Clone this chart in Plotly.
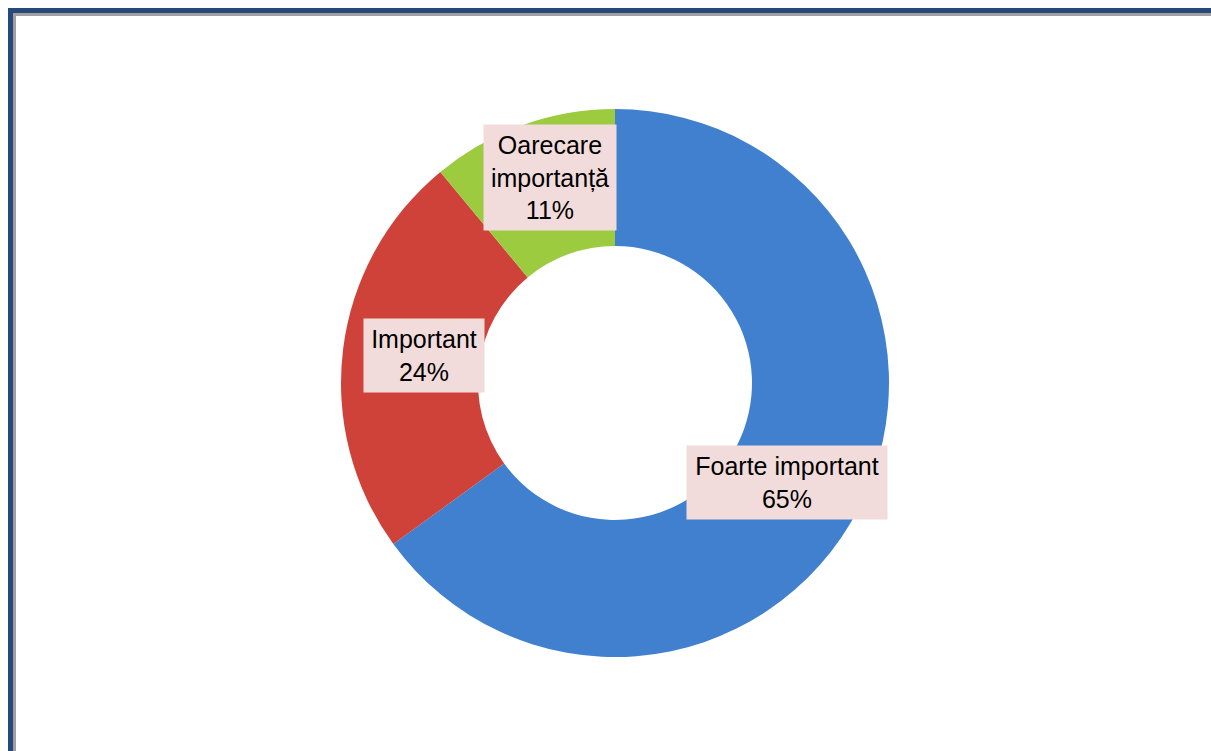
import numpy as np
import plotly.graph_objects as go

categorii = ['Foarte important', 'Important', 'Oarecare<br>importanță']
procente = [65, 24, 11]
culori = ['#4080CF', '#CF423A', '#9CCB3F']

W, H = 1211, 751
# centrul si raza inelului, in pixeli
cx, cy, R = 615, 383, 274
# in original inelul e putin alungit pe verticala: razele pentru etichete
rx, ry = 257, 291
# latimea casetelor de eticheta (px)
latimi = [188, 108, 120]

fig = go.Figure(go.Pie(
	labels=categorii,
	values=procente,
	hole=0.5,
	sort=False,
	direction='clockwise',
	rotation=0,
	marker=dict(colors=culori, line=dict(width=0)),
	textinfo='none',
	hoverinfo='label+percent',
	showlegend=False,
	domain=dict(x=[(cx - R) / W, (cx + R) / W], y=[1 - (cy + R) / H, 1 - (cy - R) / H]),
))

# etichetele la mijlocul inelului, pe unghiul median al fiecarei felii
total = sum(procente)
cumul = 0
for cat, val, lat in zip(categorii, procente, latimi):
	mijloc = (cumul + val / 2) / total * 2 * np.pi
	cumul += val
	x = (cx + 0.75 * rx * np.sin(mijloc)) / W
	y = 1 - (cy - 0.75 * ry * np.cos(mijloc)) / H
	fig.add_annotation(
		x=x, y=y, xref='paper', yref='paper',
		text=f'{cat}<br>{val}%',
		showarrow=False,
		font=dict(family='Liberation Sans, Arial', size=25, color='black'),
		bgcolor='#F2DCDB', borderpad=6, width=lat,
		xanchor='center', yanchor='middle',
	)

# rama albastra / gri, doar sus si in stanga (restul e taiat)
def rama(pos, culoare, grosime):
	fig.add_shape(type='line', xref='paper', yref='paper',
		x0=(pos - grosime / 2) / W, x1=1, y0=1 - pos / H, y1=1 - pos / H,
		line=dict(color=culoare, width=grosime))
	fig.add_shape(type='line', xref='paper', yref='paper',
		x0=pos / W, x1=pos / W, y0=0, y1=1 - (pos - grosime / 2) / H,
		line=dict(color=culoare, width=grosime))

rama(14.5, '#A0A0A0', 3)
rama(10.5, '#24497A', 5)

fig.update_layout(
	width=W, height=H,
	margin=dict(l=0, r=0, t=0, b=0),
	paper_bgcolor='white',
	plot_bgcolor='white',
)

fig.write_html('out.html', config={'displayModeBar': False},
	post_script="document.body.style.margin='0';")
